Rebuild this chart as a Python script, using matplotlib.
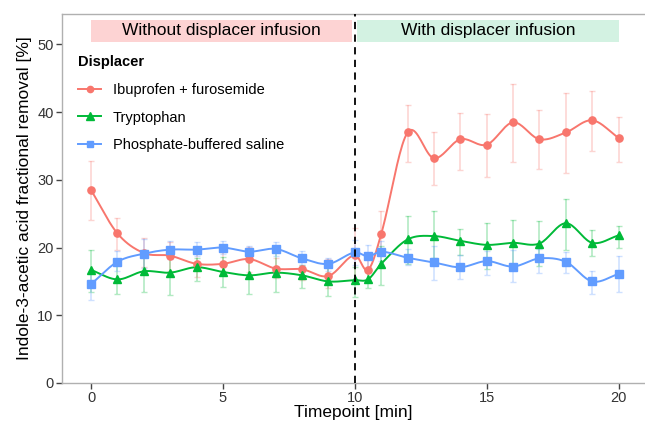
import numpy as np
import matplotlib
matplotlib.use('Agg')
import matplotlib.pyplot as plt

plt.rcParams['font.family'] = ['Liberation Sans', 'DejaVu Sans']

# timepoints (min)
time = [0, 1, 2, 3, 4, 5, 6, 7, 8, 9, 10, 10.5, 11, 12, 13, 14, 15, 16, 17, 18, 19, 20]

# Ibuprofen + furosemide
ibu = [28.5, 22.1, 19.2, 18.8, 17.6, 17.6, 18.3, 16.9, 16.8, 15.8, 18.9, 16.7, 22.0,
       37.0, 33.2, 36.0, 35.2, 38.5, 36.0, 37.0, 38.8, 36.2]
ibu_lo = [24.1, 19.7, 17.1, 16.6, 15.7, 16.0, 16.4, 15.5, 15.2, 14.0, 15.0, 15.0, 18.9,
          32.7, 29.2, 31.5, 30.4, 32.7, 31.6, 31.0, 34.2, 32.6]
ibu_hi = [32.8, 24.4, 21.4, 20.8, 19.5, 19.3, 20.1, 18.5, 17.1, 18.3, 22.9, 18.5, 25.4,
          41.0, 37.1, 39.9, 39.8, 44.1, 40.3, 42.9, 43.1, 39.3]

# Tryptophan
tryp = [16.7, 15.3, 16.5, 16.3, 17.1, 16.4, 15.9, 16.3, 15.9, 15.0, 15.2, 15.3, 17.6,
        21.2, 21.7, 21.0, 20.4, 20.7, 20.6, 23.6, 20.7, 21.8]
tryp_lo = [13.5, 13.2, 13.5, 13.0, 15.0, 14.2, 13.2, 13.4, 14.0, 12.8, 12.7, 14.1, 14.5,
           17.6, 18.5, 18.9, 16.9, 16.9, 17.3, 19.7, 18.7, 20.0]
tryp_hi = [19.7, 17.7, 19.0, 19.0, 18.5, 18.6, 18.5, 19.3, 17.5, 17.2, 17.2, 16.6, 20.2,
           24.7, 25.4, 22.8, 23.7, 24.1, 24.0, 27.2, 22.6, 23.2]

# Phosphate-buffered saline
pbs = [14.6, 17.9, 19.1, 19.7, 19.7, 20.0, 19.4, 19.8, 18.4, 17.6, 19.3, 18.7, 19.4,
       18.5, 17.8, 17.1, 18.0, 17.2, 18.4, 17.9, 15.0, 16.1]
pbs_lo = [12.3, 16.5, 17.0, 18.3, 18.7, 19.0, 18.7, 18.8, 17.5, 16.5, 17.5, 17.0, 18.0,
          17.5, 15.2, 15.3, 16.0, 14.9, 16.3, 16.3, 13.2, 13.5]
pbs_hi = [16.4, 19.5, 21.2, 20.9, 20.8, 21.0, 20.3, 20.8, 19.5, 18.5, 21.1, 20.4, 20.9,
          19.8, 20.2, 18.9, 19.5, 19.6, 19.8, 19.4, 16.6, 18.7]

labels = ['Ibuprofen + furosemide', 'Tryptophan', 'Phosphate-buffered saline']
colors = ['#F8766D', '#00BA38', '#619CFF']
markers = ['o', '^', 's']
msizes = [5.2, 6.2, 5.2]


def smooth(x, y, n=20):
    # cubic hermite curve through the points, for drawing only
    x = np.asarray(x, float)
    y = np.asarray(y, float)
    m = np.zeros_like(y)
    m[1:-1] = (y[2:] - y[:-2]) / (x[2:] - x[:-2])
    m[0] = (y[1] - y[0]) / (x[1] - x[0])
    m[-1] = (y[-1] - y[-2]) / (x[-1] - x[-2])
    xs, ys = [], []
    for i in range(len(x) - 1):
        h = x[i + 1] - x[i]
        t = np.linspace(0, 1, n, endpoint=False)
        h00 = 2 * t**3 - 3 * t**2 + 1
        h10 = t**3 - 2 * t**2 + t
        h01 = -2 * t**3 + 3 * t**2
        h11 = t**3 - t**2
        xs.append(x[i] + t * h)
        ys.append(h00 * y[i] + h10 * h * m[i] + h01 * y[i + 1] + h11 * h * m[i + 1])
    xs.append([x[-1]])
    ys.append([y[-1]])
    return np.concatenate(xs), np.concatenate(ys)


fig = plt.figure(figsize=(6.45, 4.28), dpi=100)
ax = fig.add_axes([62 / 645, 45 / 428, 583 / 645, 369 / 428])

series = [(ibu, ibu_lo, ibu_hi), (tryp, tryp_lo, tryp_hi), (pbs, pbs_lo, pbs_hi)]
handles = []
for (y, lo, hi), lab, c, mk, ms in zip(series, labels, colors, markers, msizes):
    y = np.array(y)
    err = [y - np.array(lo), np.array(hi) - y]
    ax.errorbar(time, y, yerr=err, fmt='none', ecolor=c, alpha=0.3,
                elinewidth=1.2, capsize=2, capthick=1.0, zorder=2)
    sx, sy = smooth(time, y)
    ax.plot(sx, sy, color=c, lw=1.4, zorder=3)
    ax.plot(time, y, linestyle='none', marker=mk, color=c, ms=ms, zorder=4)
    h, = ax.plot([], [], color=c, lw=1.4, marker=mk, ms=ms - 0.7, label=lab)
    handles.append(h)

ax.axvline(10, color='black', ls=(0, (4, 3)), lw=1.3, zorder=5)

ax.axvspan(0, 9.9, ymin=50.4 / 54.5, ymax=53.6 / 54.5, color='#FDD3D3', lw=0, zorder=1)
ax.axvspan(10.1, 20, ymin=50.4 / 54.5, ymax=53.6 / 54.5, color='#D3F2E2', lw=0, zorder=1)
ax.text(4.95, 52.0, 'Without displacer infusion', ha='center', va='center', fontsize=12.5)
ax.text(15.05, 52.0, 'With displacer infusion', ha='center', va='center', fontsize=12.5)

ax.set_xlim(-1.1, 21)
ax.set_ylim(0, 54.5)
ax.set_xticks([0, 5, 10, 15, 20])
ax.set_yticks([0, 10, 20, 30, 40, 50])
ax.set_xlabel('Timepoint [min]', fontsize=12.5, labelpad=0)
ax.set_ylabel('Indole-3-acetic acid fractional removal [%]', fontsize=12.5, labelpad=4)
ax.tick_params(labelcolor='#333333', labelsize=10.5, length=4, width=1, pad=2,
               color='#444444')
for s in ['left', 'bottom', 'top']:
    ax.spines[s].set_color('#B0B0B0')
    ax.spines[s].set_linewidth(1.0)
ax.spines['right'].set_visible(False)

leg = ax.legend(handles=handles, loc='upper left', bbox_to_anchor=(0.005, 0.925),
                title='Displacer', frameon=False, fontsize=10.5, handlelength=1.6,
                labelspacing=0.95, handletextpad=0.8, alignment='left')
leg.get_title().set_fontweight('bold')
leg.get_title().set_fontsize(10.5)

fig.savefig('out.png', dpi=100)
